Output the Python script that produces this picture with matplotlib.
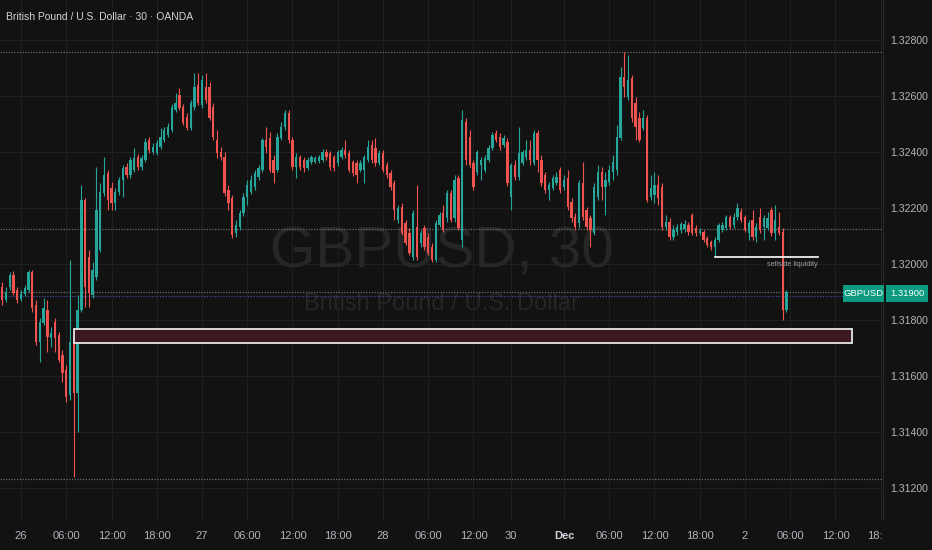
import matplotlib
matplotlib.use("Agg")
import matplotlib.pyplot as plt
from matplotlib.patches import Rectangle
from matplotlib.transforms import Bbox, TransformedBbox

plt.rcParams["font.family"] = ["Liberation Sans Narrow", "Liberation Sans", "DejaVu Sans"]

# GBPUSD 30m, OANDA -- OHLC, one value per bar
OPEN = [1.31918, 1.31871, 1.31918, 1.31961, 1.31907, 1.31875, 1.31893, 1.31907, 1.31971, 1.31854,
        1.31721, 1.31789, 1.31836, 1.31736, 1.31793, 1.31746, 1.31675, 1.31621, 1.31532, 1.31718,
        1.31539, 1.31836, 1.32229, 1.32025, 1.31889, 1.31954, 1.32050, 1.32254, 1.32325, 1.32271,
        1.32218, 1.32257, 1.32300, 1.32347, 1.32318, 1.32336, 1.32382, 1.32347, 1.32371, 1.32443,
        1.32400, 1.32396, 1.32418, 1.32443, 1.32461, 1.32479, 1.32550, 1.32604, 1.32561, 1.32525,
        1.32486, 1.32561, 1.32639, 1.32568, 1.32632, 1.32632, 1.32561, 1.32443, 1.32400, 1.32382,
        1.32264, 1.32236, 1.32111, 1.32132, 1.32182, 1.32239, 1.32257, 1.32275, 1.32311, 1.32336,
        1.32443, 1.32450, 1.32371, 1.32336, 1.32450, 1.32489, 1.32539, 1.32443, 1.32347, 1.32382,
        1.32371, 1.32343, 1.32364, 1.32364, 1.32368, 1.32371, 1.32400, 1.32396, 1.32382, 1.32361,
        1.32382, 1.32407, 1.32396, 1.32364, 1.32361, 1.32336, 1.32336, 1.32371, 1.32425, 1.32414,
        1.32361, 1.32396, 1.32354, 1.32325, 1.32289, 1.32157, 1.32204, 1.32146, 1.32111, 1.32025,
        1.32132, 1.32075, 1.32129, 1.32096, 1.32061, 1.32014, 1.32139, 1.32182, 1.32164, 1.32254,
        1.32164, 1.32307, 1.32086, 1.32507, 1.32454, 1.32361, 1.32329, 1.32354, 1.32336, 1.32371,
        1.32414, 1.32468, 1.32454, 1.32425, 1.32436, 1.32239, 1.32354, 1.32311, 1.32361, 1.32382,
        1.32407, 1.32361, 1.32468, 1.32371, 1.32318, 1.32264, 1.32271, 1.32289, 1.32336, 1.32275,
        1.32307, 1.32221, 1.32168, 1.32146, 1.32289, 1.32193, 1.32164, 1.32111, 1.32239, 1.32329,
        1.32275, 1.32293, 1.32329, 1.32336, 1.32450, 1.32668, 1.32596, 1.32664, 1.32575, 1.32521,
        1.32486, 1.32521, 1.32239, 1.32246, 1.32282, 1.32275, 1.32132, 1.32150, 1.32096, 1.32114,
        1.32121, 1.32125, 1.32139, 1.32175, 1.32129, 1.32111, 1.32114, 1.32093, 1.32079, 1.32061,
        1.32086, 1.32121, 1.32129, 1.32168, 1.32139, 1.32168, 1.32186, 1.32168, 1.32111, 1.32157,
        1.32096, 1.32168, 1.32132, 1.32129, 1.32193, 1.32111, 1.32132, 1.32114, 1.31836]
HIGH = [1.31936, 1.31918, 1.31971, 1.31975, 1.31918, 1.31907, 1.31925, 1.31979, 1.31979, 1.31871,
        1.31807, 1.31879, 1.31871, 1.31775, 1.31807, 1.31757, 1.31693, 1.31639, 1.32014, 1.31771,
        1.31889, 1.32282, 1.32236, 1.32050, 1.32007, 1.32347, 1.32289, 1.32382, 1.32336, 1.32293,
        1.32271, 1.32311, 1.32354, 1.32361, 1.32382, 1.32414, 1.32393, 1.32389, 1.32450, 1.32454,
        1.32432, 1.32443, 1.32486, 1.32489, 1.32504, 1.32571, 1.32611, 1.32629, 1.32571, 1.32539,
        1.32586, 1.32682, 1.32682, 1.32675, 1.32682, 1.32650, 1.32575, 1.32479, 1.32418, 1.32400,
        1.32282, 1.32246, 1.32157, 1.32193, 1.32254, 1.32300, 1.32318, 1.32336, 1.32354, 1.32450,
        1.32489, 1.32471, 1.32389, 1.32468, 1.32507, 1.32550, 1.32550, 1.32454, 1.32396, 1.32389,
        1.32382, 1.32382, 1.32389, 1.32386, 1.32389, 1.32411, 1.32411, 1.32404, 1.32389, 1.32407,
        1.32418, 1.32443, 1.32407, 1.32371, 1.32371, 1.32371, 1.32389, 1.32443, 1.32443, 1.32450,
        1.32407, 1.32407, 1.32364, 1.32336, 1.32300, 1.32211, 1.32218, 1.32157, 1.32129, 1.32193,
        1.32282, 1.32121, 1.32139, 1.32111, 1.32075, 1.32157, 1.32186, 1.32211, 1.32264, 1.32264,
        1.32318, 1.32318, 1.32550, 1.32521, 1.32479, 1.32371, 1.32407, 1.32382, 1.32389, 1.32425,
        1.32471, 1.32479, 1.32468, 1.32461, 1.32450, 1.32361, 1.32371, 1.32489, 1.32407, 1.32443,
        1.32443, 1.32479, 1.32479, 1.32389, 1.32329, 1.32293, 1.32318, 1.32329, 1.32347, 1.32318,
        1.32336, 1.32236, 1.32182, 1.32300, 1.32364, 1.32204, 1.32175, 1.32289, 1.32354, 1.32347,
        1.32329, 1.32354, 1.32389, 1.32496, 1.32704, 1.32757, 1.32746, 1.32675, 1.32596, 1.32543,
        1.32550, 1.32532, 1.32318, 1.32329, 1.32318, 1.32289, 1.32175, 1.32164, 1.32139, 1.32143,
        1.32150, 1.32157, 1.32150, 1.32182, 1.32139, 1.32129, 1.32121, 1.32100, 1.32086, 1.32096,
        1.32146, 1.32150, 1.32175, 1.32175, 1.32182, 1.32218, 1.32200, 1.32175, 1.32157, 1.32193,
        1.32146, 1.32200, 1.32175, 1.32186, 1.32204, 1.32211, 1.32186, 1.32129, 1.31907]
LOW = [1.31854, 1.31864, 1.31907, 1.31889, 1.31861, 1.31868, 1.31886, 1.31900, 1.31829, 1.31711,
       1.31650, 1.31782, 1.31686, 1.31704, 1.31686, 1.31650, 1.31579, 1.31507, 1.31514, 1.31239,
       1.31400, 1.31829, 1.31846, 1.31846, 1.31879, 1.31943, 1.32043, 1.32243, 1.32193, 1.32193,
       1.32193, 1.32246, 1.32239, 1.32307, 1.32307, 1.32329, 1.32336, 1.32336, 1.32364, 1.32396,
       1.32393, 1.32389, 1.32411, 1.32436, 1.32454, 1.32471, 1.32543, 1.32550, 1.32496, 1.32479,
       1.32479, 1.32550, 1.32568, 1.32557, 1.32575, 1.32514, 1.32443, 1.32379, 1.32371, 1.32243,
       1.32193, 1.32093, 1.32096, 1.32121, 1.32171, 1.32211, 1.32250, 1.32264, 1.32300, 1.32329,
       1.32396, 1.32329, 1.32289, 1.32329, 1.32443, 1.32479, 1.32432, 1.32336, 1.32307, 1.32336,
       1.32329, 1.32336, 1.32357, 1.32361, 1.32361, 1.32364, 1.32371, 1.32336, 1.32332, 1.32350,
       1.32375, 1.32379, 1.32329, 1.32314, 1.32289, 1.32329, 1.32289, 1.32364, 1.32361, 1.32350,
       1.32354, 1.32329, 1.32307, 1.32264, 1.32157, 1.32146, 1.32104, 1.32068, 1.32032, 1.32014,
       1.32014, 1.32061, 1.32050, 1.32032, 1.32007, 1.32007, 1.32132, 1.32114, 1.32150, 1.32150,
       1.32150, 1.32121, 1.32061, 1.32354, 1.32347, 1.32264, 1.32318, 1.32300, 1.32329, 1.32364,
       1.32407, 1.32436, 1.32407, 1.32418, 1.32279, 1.32193, 1.32300, 1.32300, 1.32354, 1.32371,
       1.32354, 1.32354, 1.32329, 1.32279, 1.32254, 1.32229, 1.32264, 1.32282, 1.32254, 1.32264,
       1.32193, 1.32150, 1.32121, 1.32129, 1.32157, 1.32121, 1.32061, 1.32104, 1.32229, 1.32229,
       1.32175, 1.32282, 1.32300, 1.32318, 1.32443, 1.32596, 1.32586, 1.32507, 1.32443, 1.32436,
       1.32479, 1.32221, 1.32229, 1.32218, 1.32211, 1.32121, 1.32121, 1.32086, 1.32086, 1.32104,
       1.32111, 1.32114, 1.32104, 1.32104, 1.32100, 1.32104, 1.32079, 1.32061, 1.32050, 1.32025,
       1.32079, 1.32114, 1.32121, 1.32125, 1.32129, 1.32157, 1.32150, 1.32114, 1.32086, 1.32086,
       1.32079, 1.32111, 1.32086, 1.32121, 1.32100, 1.32086, 1.32104, 1.31800, 1.31829]
CLOSE = [1.31871, 1.31900, 1.31961, 1.31896, 1.31871, 1.31893, 1.31914, 1.31971, 1.31843, 1.31721,
         1.31793, 1.31843, 1.31739, 1.31754, 1.31736, 1.31657, 1.31611, 1.31525, 1.31721, 1.31539,
         1.31836, 1.32229, 1.31918, 1.31896, 1.31979, 1.32193, 1.32257, 1.32318, 1.32229, 1.32218,
         1.32257, 1.32300, 1.32343, 1.32318, 1.32371, 1.32379, 1.32347, 1.32379, 1.32436, 1.32407,
         1.32418, 1.32432, 1.32454, 1.32479, 1.32489, 1.32561, 1.32575, 1.32557, 1.32504, 1.32486,
         1.32575, 1.32632, 1.32575, 1.32657, 1.32586, 1.32521, 1.32454, 1.32396, 1.32382, 1.32254,
         1.32218, 1.32104, 1.32139, 1.32182, 1.32239, 1.32282, 1.32300, 1.32325, 1.32343, 1.32443,
         1.32418, 1.32336, 1.32325, 1.32454, 1.32489, 1.32539, 1.32443, 1.32347, 1.32382, 1.32347,
         1.32343, 1.32371, 1.32382, 1.32379, 1.32382, 1.32400, 1.32382, 1.32347, 1.32343, 1.32400,
         1.32407, 1.32389, 1.32336, 1.32325, 1.32318, 1.32361, 1.32382, 1.32418, 1.32371, 1.32361,
         1.32396, 1.32336, 1.32318, 1.32275, 1.32193, 1.32200, 1.32111, 1.32075, 1.32039, 1.32182,
         1.32025, 1.32111, 1.32061, 1.32039, 1.32014, 1.32146, 1.32175, 1.32121, 1.32254, 1.32157,
         1.32300, 1.32129, 1.32514, 1.32371, 1.32354, 1.32275, 1.32400, 1.32371, 1.32379, 1.32414,
         1.32461, 1.32443, 1.32418, 1.32450, 1.32289, 1.32354, 1.32311, 1.32396, 1.32400, 1.32407,
         1.32371, 1.32468, 1.32371, 1.32289, 1.32264, 1.32282, 1.32307, 1.32311, 1.32264, 1.32300,
         1.32204, 1.32164, 1.32132, 1.32289, 1.32168, 1.32132, 1.32121, 1.32275, 1.32329, 1.32275,
         1.32300, 1.32336, 1.32364, 1.32454, 1.32668, 1.32632, 1.32657, 1.32521, 1.32489, 1.32443,
         1.32521, 1.32229, 1.32271, 1.32282, 1.32236, 1.32132, 1.32150, 1.32096, 1.32121, 1.32132,
         1.32143, 1.32143, 1.32114, 1.32111, 1.32111, 1.32118, 1.32086, 1.32068, 1.32061, 1.32086,
         1.32139, 1.32139, 1.32168, 1.32132, 1.32168, 1.32200, 1.32157, 1.32121, 1.32146, 1.32096,
         1.32132, 1.32121, 1.32164, 1.32164, 1.32111, 1.32157, 1.32111, 1.31836, 1.31900]

TICK_BARS = [5, 17, 29, 41, 53, 65, 77, 89, 101, 113, 125, 135, 149, 161, 173, 185, 197, 209, 221, 233]
TICK_LABELS = ["26", "06:00", "12:00", "18:00", "27", "06:00", "12:00", "18:00", "28", "06:00",
               "12:00", "30", "Dec", "06:00", "12:00", "18:00", "2", "06:00", "12:00", "18:00"]
PRICE_TICKS = [1.312, 1.314, 1.316, 1.318, 1.320, 1.322, 1.324, 1.326, 1.328]

LEVELS = [1.32757, 1.32125, 1.31900, 1.31232]   # dotted horizontal lines
BLUE_LEVEL = 1.31886
LAST_PRICE = 1.31900
ZONE = (19, 225.4, 1.31718, 1.31768)            # bar from, bar to, low, high
SSL = (189, 216.4, 1.32025)                     # sellside liquidity

BG = "#121212"
GRID = "#1f1f1f"
UP = "#26a69a"
DN = "#ef5350"
TXT = "#b2b5be"

W, H = 932, 550
fig = plt.figure(figsize=(W / 100, H / 100), dpi=100, facecolor=BG)
ax = fig.add_axes([0, 30 / H, 883 / W, 520 / H], facecolor=BG)

ax.set_xlim(-0.57, 233.6)
ax.set_ylim(1.310857, 1.329429)

# watermark
ax.text(0.5, 0.4865, "GBPUSD, 30", transform=ax.transAxes, ha="center", va="baseline",
        fontsize=42, color="#262626", zorder=1)
ax.text(0.5, 0.404, "British Pound / U.S. Dollar", transform=ax.transAxes, ha="center",
        va="baseline", fontsize=17, color="#262626", zorder=1)

# grid
for xb in TICK_BARS:
    ax.axvline(xb, color=GRID, lw=0.8, zorder=0)
for p in PRICE_TICKS:
    ax.axhline(p, color=GRID, lw=0.8, zorder=0)

# levels
for lv in LEVELS:
    ax.axhline(lv, color="#6a6a6a", lw=0.9, ls=(0, (1, 1.2)), zorder=2)
ax.axhline(BLUE_LEVEL, color="#3f4a9a", lw=0.9, ls=(0, (1, 1.2)), zorder=2)

# zone
x0, x1, lo, hi = ZONE
ax.add_patch(Rectangle((x0, lo), x1 - x0, hi - lo, facecolor="#3d1820",
                       edgecolor="#e8e8e8", lw=1.3, zorder=5))

# candles
xs = list(range(len(OPEN)))
cols = [UP if c >= o else DN for o, c in zip(OPEN, CLOSE)]
ax.vlines(xs, LOW, HIGH, colors=cols, lw=0.8, zorder=3)
ax.bar(xs, [max(abs(c - o), 0.00003) for o, c in zip(OPEN, CLOSE)],
       bottom=[min(o, c) for o, c in zip(OPEN, CLOSE)], width=0.62, color=cols,
       linewidth=0, zorder=4)

# sellside liquidity
ax.plot([SSL[0], SSL[1]], [SSL[2], SSL[2]], color="white", lw=1.2, zorder=6)
ax.text(209.5, 1.31997, "sellside liquidity", ha="center", va="center", fontsize=5.3,
        color="#9a9da6", zorder=6)

# axes styling
for s in ["top", "left", "bottom"]:
    ax.spines[s].set_visible(False)
ax.spines["right"].set_color("#2a2a2a")
ax.yaxis.tick_right()
ax.set_yticks(PRICE_TICKS, [f"{p:.5f}" for p in PRICE_TICKS])
ax.tick_params(axis="y", length=0, pad=5, labelsize=7.6, labelcolor=TXT)
ax.set_xticks(TICK_BARS, TICK_LABELS)
ax.tick_params(axis="x", length=0, pad=8, labelsize=8, labelcolor=TXT)
clip = TransformedBbox(Bbox([[0, 0], [883 / W, 1]]), fig.transFigure)
for lbl in ax.get_xticklabels():
    if lbl.get_text() == "Dec":
        lbl.set_fontweight("bold")
        lbl.set_color("#d1d4dc")
    lbl.set_clip_on(True)
    lbl.set_clip_box(clip)

# title
fig.text(6 / W, 1 - 17 / H, "British Pound / U.S. Dollar · 30 · OANDA", ha="left",
         va="center", fontsize=7.5, color="#d1d4dc")

# last price tag
tag = "#0a9b80"
fig.patches.append(Rectangle((843 / W, 1 - 302 / H), 41 / W, 17 / H, transform=fig.transFigure,
                             facecolor=tag, edgecolor="none", zorder=5))
fig.patches.append(Rectangle((886 / W, 1 - 302 / H), 42 / W, 17 / H, transform=fig.transFigure,
                             facecolor=tag, edgecolor="none", zorder=5))
fig.text(863.5 / W, 1 - 293.5 / H, "GBPUSD", ha="center", va="center", fontsize=6.8,
         color="white", zorder=6)
fig.text(907 / W, 1 - 293.5 / H, f"{LAST_PRICE:.5f}", ha="center", va="center", fontsize=6.8,
         color="white", zorder=6)

fig.savefig("out.png", dpi=100, facecolor=BG)
